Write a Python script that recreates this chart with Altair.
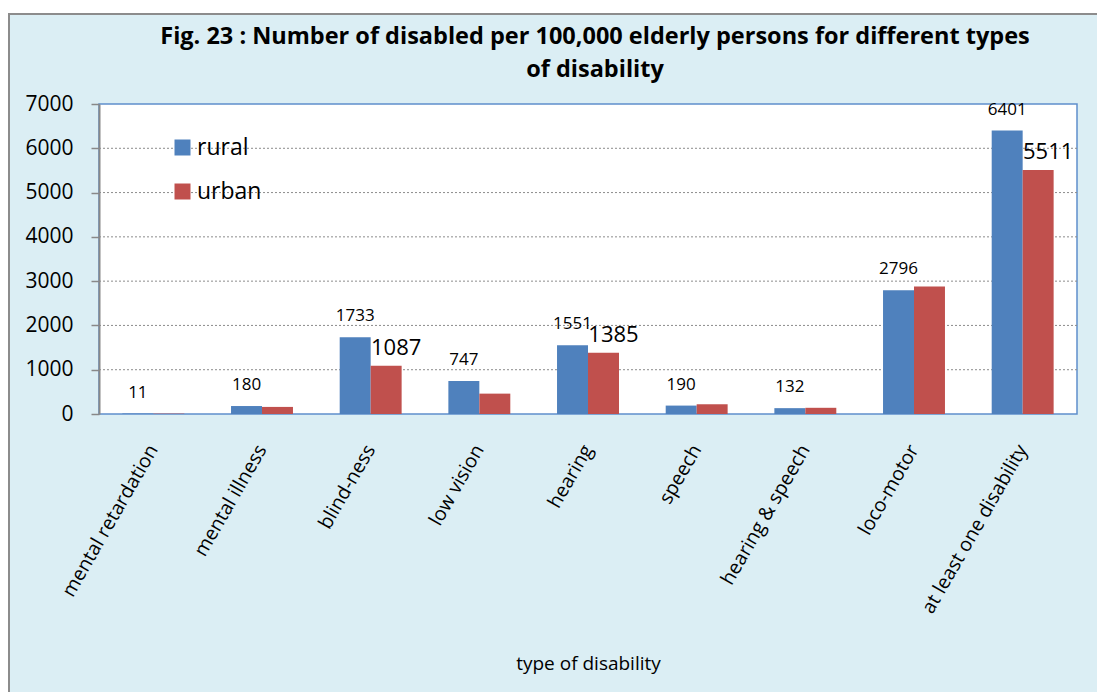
import altair as alt
import pandas as pd

# Disability rates per 100,000 elderly persons
categories = [
    "mental retardation", "mental illness", "blind-ness", "low vision", "hearing",
    "speech", "hearing & speech", "loco-motor", "at least one disability",
]
rural = [11, 180, 1733, 747, 1551, 190, 132, 2796, 6401]
urban = [8, 160, 1087, 460, 1385, 220, 140, 2880, 5511]
urban_labelled = ["blind-ness", "hearing", "at least one disability"]
y_ticks = [0, 1000, 2000, 3000, 4000, 5000, 6000, 7000]
series = ["rural", "urban"]
colors = ["#4F81BD", "#C0504D"]

W, H = 978, 310
FONT = "Open Sans"

rows = []
for cat, r, u in zip(categories, rural, urban):
    rows.append({"type": cat, "area": "rural", "value": r, "label": str(r)})
    rows.append({"type": cat, "area": "urban", "value": u,
                 "label": str(u) if cat in urban_labelled else ""})
df = pd.DataFrame(rows)

x_enc = alt.X(
    "type:N", sort=categories,
    scale=alt.Scale(paddingInner=0.43, paddingOuter=0.215),
    axis=alt.Axis(
        title="type of disability", labelAngle=300, labelAlign="right",
        labelBaseline="middle", labelFont=FONT, labelFontSize=19.5,
        labelColor="black", labelPadding=32, labelLimit=400, labelOverlap=False,
        ticks=False, domain=False, titleFont=FONT, titleFontSize=19,
        titleFontWeight="normal", titleColor="black", titlePadding=40, zindex=1,
    ),
)
y_enc = alt.Y(
    "value:Q", scale=alt.Scale(domain=[0, 7000], nice=False),
    axis=alt.Axis(
        values=y_ticks, format="d", grid=False, title=None, domainColor="#888888",
        domainWidth=2, tickColor="#888888", tickSize=8, tickWidth=1.5,
        labelFont=FONT, labelFontSize=21, labelColor="black", labelPadding=18,
        zindex=1,
    ),
)
x_off = alt.XOffset("area:N", scale=alt.Scale(domain=series))

# outer panel and white plot frame
panel = alt.Chart(pd.DataFrame({"k": [0]})).mark_rect(
    fill="#DBEEF4", stroke="#8C8C8C", strokeWidth=2
).encode(x=alt.value(-90), x2=alt.value(W + 40), y=alt.value(-90), y2=alt.value(H + 300))

frame = alt.Chart(pd.DataFrame({"k": [0]})).mark_rect(
    fill="white", stroke="#5F8FCB", strokeWidth=1.5
).encode(x=alt.value(0), x2=alt.value(W), y=alt.value(0), y2=alt.value(H))

# dotted gridlines between the frame edges
grid = alt.Chart(pd.DataFrame({"value": y_ticks[1:-1]})).mark_rule(
    strokeDash=[2, 2], color="#8C8C8C", strokeWidth=1
).encode(y=y_enc, x=alt.value(0), x2=alt.value(W))

bars = alt.Chart(df).mark_bar().encode(
    x=x_enc, xOffset=x_off, y=y_enc,
    color=alt.Color(
        "area:N", scale=alt.Scale(domain=series, range=colors),
        legend=alt.Legend(
            title=None, orient="none", legendX=72, legendY=32,
            symbolType="square", symbolSize=256, symbolStrokeWidth=0,
            labelFont=FONT, labelFontSize=23, labelColor="black",
            rowPadding=20, labelOffset=3,
        ),
    ),
)

lab_rural = alt.Chart(df).transform_filter(alt.datum.area == "rural").mark_text(
    dy=-21, fontSize=17, font=FONT, color="black"
).encode(x=x_enc, xOffset=x_off, y=y_enc, text="label:N")

lab_urban = alt.Chart(df).transform_filter(alt.datum.area == "urban").mark_text(
    dx=10, dy=-18, fontSize=22, font=FONT, color="black"
).encode(x=x_enc, xOffset=x_off, y=y_enc, text="label:N")

chart = alt.layer(panel, frame, grid, bars, lab_rural, lab_urban).properties(
    width=W, height=H,
    padding={"left": 99, "top": 104, "right": 20, "bottom": 278},
    autosize=alt.AutoSizeParams(type="none"),
    background="white",
    title=alt.Title(
        ["Fig. 23 : Number of disabled per 100,000 elderly persons for different types",
         "of disability"],
        font=FONT, fontSize=23.5, fontWeight="bold", color="black", lineHeight=33,
        anchor="middle", frame="group", baseline="bottom", offset=-92, dx=7,
    ),
).configure_view(stroke=None)

chart.save("out.html", embed_options={"renderer": "svg", "actions": False})
